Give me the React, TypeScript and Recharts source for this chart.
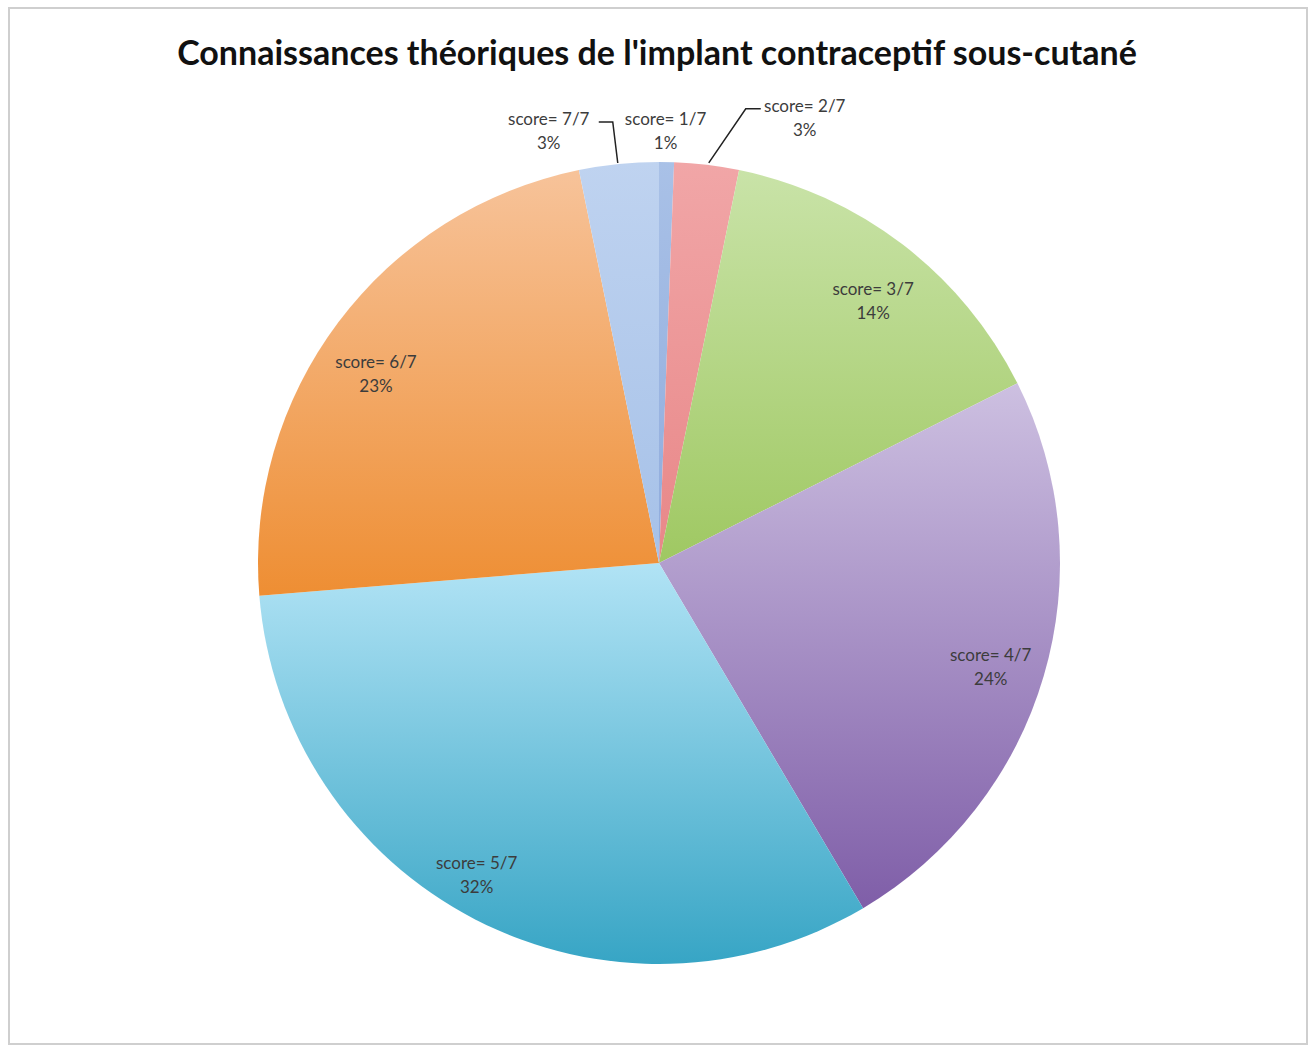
import { PieChart, Pie, Cell } from 'recharts';

// Score distribution (percent of respondents), clockwise from 12 o'clock
const CATEGORIES = ['score= 1/7', 'score= 2/7', 'score= 3/7', 'score= 4/7', 'score= 5/7', 'score= 6/7', 'score= 7/7'];
const SHARES = [0.6, 2.6, 14.4, 23.9, 32.2, 23.1, 3.2];

const TITLE = "Connaissances théoriques de l'implant contraceptif sous-cutané";

// vertical gradient per slice: top colour, bottom colour
const TOP_COLORS = ['#a9c1e7', '#f1a6a7', '#c9e3a8', '#cdc0e1', '#b1e3f5', '#f7c39a', '#bfd3f0'];
const BOTTOM_COLORS = ['#8fabdc', '#e88788', '#9fc862', '#7f5ea8', '#37a5c5', '#ee8e33', '#a6c1e8'];

const RAD = Math.PI / 180;
const TEXT_COLOR = '#3c3c3c';
const FONT = 'Lato, "Open Sans", sans-serif';
const LABEL_SIZE = 17;

// small slices get their label outside, with an optional leader line
const OUTSIDE: Record<number, { dx: number; dy: number; line?: [number, number][] }> = {
  0: { dx: -1, dy: -44 },
  1: { dx: 98, dy: -60, line: [[2, -2], [39, -56], [54, -56]] },
  6: { dx: -70, dy: -46, line: [[-1, -1], [-6, -42], [-20, -42]] },
};

// small nudges so inside labels sit where Excel's "best fit" put them
const NUDGE: Record<number, [number, number]> = {
  2: [2, 14],
  3: [-3, 5],
  4: [-22, 1],
  5: [-4, 19],
};

const data = CATEGORIES.map((name, i) => ({ name, value: SHARES[i] }));

function renderLabel(props: any) {
  const { cx, cy, midAngle, outerRadius, index, value } = props;
  const pct = `${Math.round(value)}%`;
  const cos = Math.cos(-midAngle * RAD);
  const sin = Math.sin(-midAngle * RAD);
  const out = OUTSIDE[index];

  if (out) {
    const ex = cx + outerRadius * cos;
    const ey = cy + outerRadius * sin;
    return (
      <g key={`lbl-${index}`}>
        {out.line && (
          <polyline
            points={out.line.map(([x, y]) => `${ex + x},${ey + y}`).join(' ')}
            fill="none"
            stroke="#222"
            strokeWidth={1.5}
          />
        )}
        <text x={ex + out.dx} y={ey + out.dy} textAnchor="middle" dominantBaseline="central" fill={TEXT_COLOR} fontSize={LABEL_SIZE} fontFamily={FONT}>
          <tspan x={ex + out.dx} dy={0}>{props.name}</tspan>
          <tspan x={ex + out.dx} dy={24}>{pct}</tspan>
        </text>
      </g>
    );
  }

  const [nx, ny] = NUDGE[index] || [0, 0];
  const r = outerRadius * 0.87;
  const x = cx + r * cos + nx;
  const y = cy + r * sin + ny;
  return (
    <text key={`lbl-${index}`} x={x} y={y - 12} textAnchor="middle" dominantBaseline="central" fill={TEXT_COLOR} fontSize={LABEL_SIZE} fontFamily={FONT}>
      <tspan x={x} dy={0}>{props.name}</tspan>
      <tspan x={x} dy={24}>{pct}</tspan>
    </text>
  );
}

export default function App() {
  return (
    <div style={{ position: 'absolute', left: 0, top: 0, width: 1314, height: 1048, background: '#fff' }}>
      <div
        style={{
          position: 'absolute',
          left: 8,
          top: 7,
          width: 1296,
          height: 1034,
          border: '2px solid #cfcfcf',
        }}
      />
      <div
        style={{
          position: 'absolute',
          left: 0,
          top: 29,
          width: 1314,
          textAlign: 'center',
          fontFamily: FONT,
          fontWeight: 700,
          fontSize: 34,
          color: '#111',
          lineHeight: '46px',
        }}
      >
        {TITLE}
      </div>
      <div style={{ position: 'absolute', left: 0, top: 0 }}>
        <PieChart width={1314} height={1048} margin={{ top: 0, right: 0, bottom: 0, left: 0 }}>
          <defs>
            {TOP_COLORS.map((c, i) => (
              <linearGradient key={i} id={`slice-${i}`} x1="0" y1="0" x2="0" y2="1">
                <stop offset="0%" stopColor={c} />
                <stop offset="100%" stopColor={BOTTOM_COLORS[i]} />
              </linearGradient>
            ))}
          </defs>
          <Pie
            data={data}
            dataKey="value"
            nameKey="name"
            cx={659}
            cy={563}
            outerRadius={401}
            startAngle={90}
            endAngle={-270}
            stroke="none"
            label={renderLabel}
            labelLine={false}
            isAnimationActive={false}
          >
            {data.map((d, i) => (
              <Cell key={d.name} fill={`url(#slice-${i})`} />
            ))}
          </Pie>
        </PieChart>
      </div>
    </div>
  );
}
